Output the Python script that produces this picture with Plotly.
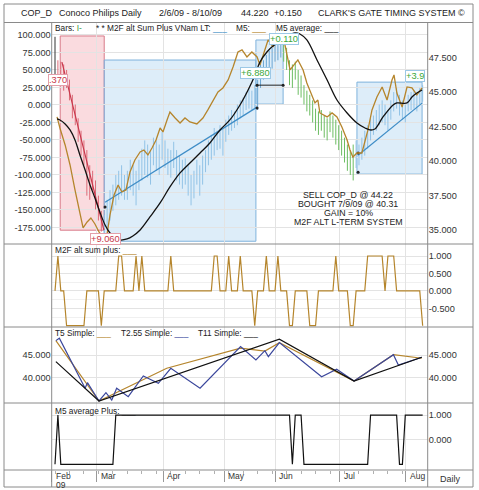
import plotly.graph_objects as go

# ---------------- data ----------------
month_labels = ["Feb", "Mar", "Apr", "May", "Jun", "Jul", "Aug"]
month_pos = [-1.1, 14.5, 37.4, 58.4, 76.0, 98.4, 121.1]
year_label = "09"

# daily price bars (high / low), trading-day index 0..127
bar_high = [49.0, 47.3, 47.2, 47.0, 46.6, 45.9, 44.8, 44.1, 43.1, 42.2, 41.5, 40.8, 39.7, 39.3, 38.6, 37.5, 36.4,
            36.1, 37.2, 37.9, 38.3, 39.0, 39.3, 39.7, 39.0, 39.3, 40.1, 39.7, 39.3, 40.1, 40.9, 41.5, 41.2, 40.8,
            41.7, 41.5, 41.2, 42.1, 41.5, 40.9, 40.8, 41.4, 40.8, 40.4, 40.1, 40.2, 39.7, 39.0, 39.3, 40.1, 39.7,
            40.4, 40.8, 41.5, 41.9, 42.4, 42.2, 42.6, 42.4, 43.0, 43.3, 43.7, 43.6, 44.1, 44.4, 44.6, 45.0, 45.3,
            45.1, 45.5,
            45.9, 47.0, 47.3, 47.7, 48.0, 48.2, 48.4, 48.6, 48.8,
            48.6, 48.2, 47.3, 47.0, 47.2, 46.6, 46.2, 45.5, 45.1, 44.8, 44.4, 43.8, 43.6, 43.7, 43.3, 43.1, 43.6,
            43.3, 43.0, 42.6, 42.2, 41.7, 41.2, 40.8, 41.2,
            41.5, 41.2, 41.7, 42.2, 42.6, 43.1, 43.3, 43.7, 44.1, 44.4, 44.1, 43.7, 44.4, 45.0, 45.3, 44.8, 44.4,
            44.1, 44.8, 45.0, 45.1, 44.8, 45.3, 45.5]
bar_low = [46.2, 45.5, 46.0, 45.1, 45.3, 44.4, 43.1, 42.6, 41.4, 40.4, 39.7, 37.5, 37.2, 37.9, 36.5, 35.7, 34.9,
           34.6, 35.0, 35.7, 36.4, 36.8, 37.2, 37.5, 37.2, 37.2, 37.9, 37.5, 36.8, 37.9, 38.6, 39.0, 38.8, 38.3,
           39.7, 39.3, 39.0, 40.1, 39.5, 39.0, 38.8, 39.5, 38.6, 38.3, 38.0, 38.3, 37.5, 36.8, 37.3, 38.3, 37.5,
           38.3, 39.2, 39.7, 40.1, 40.4, 40.8, 40.9, 40.4, 41.4, 41.9, 42.2, 42.4, 42.6, 43.1, 43.3, 43.7, 43.8,
           43.7, 43.8,
           43.7, 45.3, 45.9, 46.2, 46.6, 46.7, 47.2, 47.3, 47.5,
           47.2, 46.6, 45.5, 45.3, 45.9, 44.8, 44.6, 44.1, 43.6, 43.3, 42.8, 42.2, 41.9, 42.2, 41.7, 41.5, 42.1,
           41.7, 41.2, 40.8, 40.4, 39.9, 39.3, 39.0, 38.6,
           39.5, 39.7, 40.1, 40.4, 40.9, 41.5, 41.9, 42.2, 42.6, 42.8, 42.6, 42.2, 43.0, 43.6, 43.8, 43.3, 43.0,
           42.8, 43.6, 43.7, 43.8, 43.6, 44.1, 44.3]
bar_group_start = [0, 1, 17, 70, 79, 104]
bar_group_color = ["#333333", "#dc6b78", "#92c3e6", "#6aa6d2", "#6cbd62", "#92c3e6"]

# M5 (brown) and M5 average (black) on left scale
brown_x = [0.7, 1.7, 3.5, 5.2, 6.9, 8.3, 9.7, 11.1, 12.4, 13.8, 15.2, 16.6, 18.0, 19.0, 20.4, 21.8, 23.1, 24.5,
           25.9, 27.6, 29.4, 30.7, 32.1, 33.5, 34.9, 36.3, 37.3, 38.7, 39.7, 41.5, 43.2, 44.9, 46.6, 49.0, 51.1,
           52.8, 54.6, 56.3, 58.0, 59.8, 61.5, 63.2, 64.6, 66.3, 68.0, 69.8, 70.8, 72.2, 73.6, 75.3, 76.7, 78.8,
           81.2, 83.9, 85.7, 87.0, 88.8, 89.8, 90.8, 91.5, 94.0, 95.7, 97.4, 99.1, 100.9, 101.9, 102.9, 104.3,
           106.0, 107.1, 108.1, 109.5, 111.2, 113.0, 114.7, 116.4, 117.1, 118.1, 119.9, 121.6, 123.3, 125.0, 126.8]
brown_v = [-17.1, -32.9, -57.1, -85.7, -121.4, -150, -175.7, -167.1, -161.4, -170, -181.4, -190, -184.3, -157.1,
           -128.6, -114.3, -124.3, -121.4, -95.7, -78.6, -67.1, -64.3, -71.4, -61.4, -50, -32.9, -38.6, -21.4,
           -10, -18.6, -25.7, -18.6, -24.3, -27.1, -18.6, -7.1, 7.1, 18.6, 24.3, 35.7, 54.3, 75.7, 78.6, 68.6,
           75.7, 68.6, 57.1, 75.7, 92.9, 82.9, 95.7, 98.6, 50, 64.3, 50, 31.4, 11.4, 2.9, 7.1, -11.4, -17.1,
           -11.4, -17.1, -31.4, -50, -64.3, -74.3, -68.6, -68.6, -50, -35.7, -7.1, 11.4, 25.7, 7.1, 35.7, 42.9,
           17.1, -2.9, 25.7, 24.3, 14.3, 24.3]
black_x = [0.7, 1.7, 3.5, 5.2, 6.9, 8.6, 10.4, 12.1, 13.8, 15.5, 17.3, 19.0, 20.7, 22.5, 24.9, 26.9, 29.4, 32.8,
           36.3, 39.7, 43.2, 46.6, 50.1, 53.5, 57.0, 60.4, 63.9, 66.7, 69.1, 70.8, 73.2, 75.3, 77.7, 80.5, 82.9,
           84.6, 87.0, 90.5, 94.0, 97.4, 100.9, 104.3, 107.1, 108.8, 110.5, 113.3, 116.8, 118.1, 121.6, 123.3,
           125.0, 126.8]
black_v = [-20, -21.4, -27.1, -35.7, -50, -71.4, -92.9, -114.3, -132.9, -152.9, -171.4, -182.9, -190, -192.9,
           -191.4, -187.1, -178.6, -160, -140, -117.1, -97.1, -82.9, -68.6, -54.3, -35.7, -21.4, 0, 21.4, 42.9,
           61.4, 75.7, 84.3, 90, 98.6, 102.9, 101.4, 92.9, 64.3, 35.7, 7.1, -11.4, -25.7, -32.9, -35.7, -34.3,
           -17.1, 0, 2.9, 2.9, 11.4, 17.1, 21.4]

# trade boxes (sell = pink, buy = blue)
box_x0 = [1.8, 17.0, 69.4, 104.3]
box_x1 = [17.0, 69.4, 78.8, 126.8]
box_y0 = [35.0, 34.2, 44.13, 39.06]
box_y1 = [49.06, 47.32, 48.77, 45.72]
box_kind = ["sell", "buy", "buy", "buy"]

# trend lines inside the boxes
trend_x = [[2.4, 16.9], [17.3, 69.8], [104.7, 126.8]]
trend_y = [[47.17, 35.0], [37.03, 43.91], [40.43, 44.2]]
trend_color = ["#c8374b", "#3d8cc6", "#3d8cc6"]
level_x = [69.8, 78.8]
level_y = [45.5, 45.5]
dot_x = [17.3, 69.8, 69.8, 78.8, 104.7, 104.7]
dot_y = [36.67, 43.84, 45.5, 45.5, 40.58, 39.2]

# trade result labels
label_text = [".370", "+9.060", "+6.880", "+0.110", "+3.9"]
label_x = [0.9, 17.3, 69.4, 79.1, 120.9]
label_y = [45.87, 34.38, 46.38, 48.85, 46.16]
label_kind = ["sell", "sell", "buy", "buy", "buy"]

# panel 2: M2F alt sum plus
m2f = [0, 1, 0, 0, -1, -1, -1, -1, -1, -1,
       -1, 0, 0, 0, 0, 0, -1, 0, 0, 0,
       0, 0, 1, 1, 0, 0, 0, 0, 1, 0,
       1, 0, 0, 0, 0, 0, 0, 0, 0, 0,
       1, 0, 0, 0, 0, 0, 0, 0, 0, 0,
       0, 0, 0, 0, 0, 1, 1, 0, 0, 0,
       1, 0, 0, 0, 1, 0, 0, 0, 0, -1,
       0, 0, 0, 1, 0, 0, 0, 1, 0, 0,
       0, -1, -1, 0, 0, 0, 0, 0, -1, -1,
       -1, 0, 0, 0, 0, 0, 0, 1, 0, 0,
       0, 0, -1, -1, 0, 0, 0, 0, 1, 1,
       1, 1, 1, 1, 0, 1, 1, 1, 0, 0,
       0, 0, 0, 0, 0, 0, 0, -1]

# panel 3: swing lines
t5_x = [0.3, 15.2, 38.6, 64.1, 72.5, 77.5, 103.3, 116.9, 126.7]
t5_v = [48.26, 34.8, 42.1, 46.6, 45.94, 47.81, 39.26, 45.13, 44.33]
t255_x = [0.3, 1.5, 10.4, 11.2, 15.2, 17.6, 19.6, 21.3, 25.3, 30.5, 35.7, 40.0, 50.1, 64.1, 69.4, 72.5, 73.7,
          77.5, 92.1, 97.3, 103.3, 116.9, 118.6, 126.7]
t255_v = [48.26, 48.79, 37.63, 38.88, 34.8, 36.65, 35.02, 37.63, 35.76, 40.38, 38.75, 42.1, 37.63, 46.92, 43.95,
          46.03, 44.69, 47.81, 40.22, 41.87, 39.26, 45.13, 42.83, 44.55]
t11_x = [0.3, 15.2, 77.5, 103.3, 126.7]
t11_v = [43.57, 34.8, 48.57, 39.26, 44.55]

# panel 4: M5 average plus
m5plus = ([-1, 1] + [-1] * 19 + [1] * 61 + [-1] + [1] * 3 + [-1] * 23 + [1] * 10 + [-1] * 2 + [1] * 7)

# ---------------- layout helpers ----------------
W, H = 479, 490
FONT = "Liberation Sans, Arial, sans-serif"
XL, XR = 51.7 / W, 427.7 / W


def py(p):
    return 1 - p / H


def px(p):
    return p / W


BROWN = "#b5852c"
GRID = "#e3e3e3"
FRAME = "#8a8a8a"

fig = go.Figure()

# price bars
for gi, start in enumerate(bar_group_start):
    end = bar_group_start[gi + 1] if gi + 1 < len(bar_group_start) else len(bar_high)
    xs, ys = [], []
    for i in range(start, end):
        xs += [i, i, None]
        ys += [bar_low[i], bar_high[i], None]
    fig.add_trace(go.Scatter(x=xs, y=ys, mode="lines", line=dict(color=bar_group_color[gi], width=1),
                             xaxis="x", yaxis="y", hoverinfo="skip", showlegend=False))

for tx, ty, tc in zip(trend_x, trend_y, trend_color):
    fig.add_trace(go.Scatter(x=tx, y=ty, mode="lines", line=dict(color=tc, width=1.2),
                             xaxis="x", yaxis="y", showlegend=False))
fig.add_trace(go.Scatter(x=level_x, y=level_y, mode="lines", line=dict(color="#222", width=1),
                         xaxis="x", yaxis="y", showlegend=False))
fig.add_trace(go.Scatter(x=dot_x, y=dot_y, mode="markers", marker=dict(color="#222", size=3),
                         xaxis="x", yaxis="y", showlegend=False))

# oscillator lines on left scale
fig.add_trace(go.Scatter(x=brown_x, y=brown_v, mode="lines", line=dict(color=BROWN, width=1.3),
                         xaxis="x", yaxis="y2", showlegend=False))
fig.add_trace(go.Scatter(x=black_x, y=black_v, mode="lines", line=dict(color="#111", width=1.3, shape="spline"),
                         xaxis="x", yaxis="y2", showlegend=False))

# panel 2
fig.add_trace(go.Scatter(x=list(range(len(m2f))), y=m2f, mode="lines", line=dict(color=BROWN, width=1.2),
                         xaxis="x2", yaxis="y3", showlegend=False))
# panel 3
fig.add_trace(go.Scatter(x=t5_x, y=t5_v, mode="lines", line=dict(color=BROWN, width=1.2),
                         xaxis="x3", yaxis="y4", showlegend=False))
fig.add_trace(go.Scatter(x=t255_x, y=t255_v, mode="lines", line=dict(color="#3b479c", width=1.2),
                         xaxis="x3", yaxis="y4", showlegend=False))
fig.add_trace(go.Scatter(x=t11_x, y=t11_v, mode="lines", line=dict(color="#111", width=1.2),
                         xaxis="x3", yaxis="y4", showlegend=False))
fig.add_trace(go.Scatter(x=[], y=[], xaxis="x3", yaxis="y5", showlegend=False))
# panel 4
fig.add_trace(go.Scatter(x=list(range(len(m5plus))), y=m5plus, mode="lines", line=dict(color="#111", width=1.2),
                         xaxis="x4", yaxis="y6", showlegend=False))

shapes = []
for x0, x1, y0, y1, k in zip(box_x0, box_x1, box_y0, box_y1, box_kind):
    fill = "rgba(243,160,172,0.38)" if k == "sell" else "rgba(150,198,236,0.32)"
    edge = "#d87a88" if k == "sell" else "#7fb2dc"
    shapes.append(dict(type="rect", xref="x", yref="y", x0=x0, x1=x1, y0=y0, y1=y1,
                       fillcolor=fill, line=dict(color=edge, width=1), layer="below"))


# frame lines (paper)
def hline(y, x0=4, x1=473):
    shapes.append(dict(type="line", xref="paper", yref="paper", x0=px(x0), x1=px(x1), y0=py(y), y1=py(y),
                       line=dict(color=FRAME, width=1)))


def vline(x, y0=22.5, y1=487):
    shapes.append(dict(type="line", xref="paper", yref="paper", x0=px(x), x1=px(x), y0=py(y0), y1=py(y1),
                       line=dict(color=FRAME, width=1)))


shapes.append(dict(type="rect", xref="paper", yref="paper", x0=px(4), x1=px(473), y0=py(487), y1=py(4),
                   line=dict(color=FRAME, width=1)))
for yy in [22.5, 244, 327, 403, 470]:
    hline(yy)
vline(51.7)
vline(427.7)

ann = []


def text(x, y, s, size=9.5, color="#222", anchor="left", xref="paper", yref="paper", **kw):
    d = dict(x=x, y=y, xref=xref, yref=yref, text=s, showarrow=False, xanchor=anchor, yanchor="middle",
             font=dict(family=FONT, size=size, color=color))
    d.update(kw)
    ann.append(d)


# title bar
text(px(19), py(13), "COP_D", 9)
text(px(57), py(13), "Conoco Philips Daily", 9)
text(px(157), py(13), "2/6/09 - 8/10/09", 9)
text(px(239), py(13), "44.220", 9)
text(px(272), py(13), "+0.150", 9)
text(px(316), py(13), "CLARK'S GATE TIMING SYSTEM ©", 9)

# legends
LEG = 8.3
text(px(53), py(28), "Bars: <span style='color:#3a9d3a'>I-</span>", LEG)
text(px(94), py(28), "* * M2F alt Sum Plus VNam LT: <span style='color:#3d8cc6'>___</span>", LEG)
text(px(234), py(28), "M5: <span style='color:#b5852c'>___</span>", LEG)
text(px(274), py(28), "M5 average: ___", LEG)
text(px(53), py(250), "M2F alt sum plus: <span style='color:#b5852c'>___</span>", LEG)
text(px(53), py(333), "T5 Simple: <span style='color:#b5852c'>___</span>", LEG)
text(px(119), py(333), "T2.55 Simple: <span style='color:#3b479c'>___</span>", LEG)
text(px(196), py(333), "T11 Simple: ___", LEG)
text(px(53), py(411), "M5 average Plus: ___", LEG)

# trade labels
for s, lx, ly, k in zip(label_text, label_x, label_y, label_kind):
    col = "#c8374b" if k == "sell" else "#3aa83a"
    edge = "#e3a0aa" if k == "sell" else "#9cc8e6"
    text(lx, ly, s, 9.3, col, anchor="left" if s == label_text[-1] else "center", xref="x", yref="y",
         bgcolor="white", bordercolor=edge, borderwidth=1, borderpad=0)

# trade summary text
for i, s in enumerate(["SELL COP_D @ 44.22", "BOUGHT 7/9/09 @ 40.31", "GAIN = 10%", "M2F ALT L-TERM SYSTEM"]):
    text(px(348), py(194.5 + i * 9.0), s, 8.8, "#222", anchor="center")

# date row
for lab, mp in zip(month_labels, month_pos):
    text(mp, py(476), lab, 8.5, "#333", xref="x4", xshift=2)
text(month_pos[0], py(484.5), year_label, 8.5, "#333", xref="x4", xshift=2)
text(px(450), py(479), "Daily", 9, "#333", anchor="center")

XR_RANGE = [-1.14, 128.74]
tickfont = dict(family=FONT, size=9.2, color="#333")


def xax(anchor, extra=None):
    d = dict(domain=[XL, XR], anchor=anchor, range=XR_RANGE, showticklabels=False, showgrid=True,
             gridcolor=GRID, gridwidth=1, tickmode="array", tickvals=month_pos, zeroline=False,
             showline=False, ticks="")
    if extra:
        d.update(extra)
    return d


def fmt(vals):
    return [f"{v:.3f}" for v in vals]


main_dom = [py(244), py(23)]
p2_dom = [py(327), py(244)]
p3_dom = [py(403), py(327)]
p4_dom = [py(470), py(403)]

right_ticks = [35, 37.5, 40, 42.5, 45, 47.5]
left_ticks = [-175, -150, -125, -100, -75, -50, -25, 0, 25, 50, 75, 100]
p2_ticks = [-0.5, 0, 0.5, 1]
p3_ticks = [40, 45]
p4_ticks = [0, 1]

fig.update_layout(
    width=W, height=H, margin=dict(l=0, r=0, t=0, b=0), paper_bgcolor="white", plot_bgcolor="white",
    showlegend=False, shapes=shapes, annotations=ann, font=dict(family=FONT),
    xaxis=xax("y"),
    xaxis2=xax("y3", dict(matches="x")),
    xaxis3=xax("y4", dict(matches="x")),
    xaxis4=xax("y6", dict(matches="x", ticks="outside", ticklen=11, tickcolor="#999", tickwidth=1,
                          minor=dict(ticks="outside", ticklen=3, dtick=5, tick0=0, tickcolor="#b0b0b0",
                                     showgrid=False))),
    yaxis=dict(domain=main_dom, anchor="x", side="right", range=[34, 50], tickmode="array",
               tickvals=right_ticks, ticktext=fmt(right_ticks), showgrid=False, zeroline=False,
               tickfont=tickfont, ticks=""),
    yaxis2=dict(overlaying="y", anchor="x", side="left", range=[-198.6, 117.1], tickmode="array",
                tickvals=left_ticks, ticktext=fmt(left_ticks), showgrid=True, gridcolor=GRID,
                zeroline=False, tickfont=tickfont, ticks=""),
    yaxis3=dict(domain=p2_dom, anchor="x2", side="right", range=[-1.037, 1.345], tickmode="array",
                tickvals=p2_ticks, ticktext=fmt(p2_ticks), showgrid=True, gridcolor=GRID, zeroline=False,
                tickfont=tickfont, ticks="",
                minor=dict(tickvals=[-0.75, -0.25, 0.25, 0.75], showgrid=True, gridcolor="#f0f0f0")),
    yaxis4=dict(domain=p3_dom, anchor="x3", side="right", range=[34.35, 51.3], tickmode="array",
                tickvals=p3_ticks, ticktext=fmt(p3_ticks), showgrid=True, gridcolor=GRID, zeroline=False,
                tickfont=tickfont, ticks=""),
    yaxis5=dict(overlaying="y4", anchor="x3", side="left", range=[34.35, 51.3], tickmode="array",
                tickvals=p3_ticks, ticktext=fmt(p3_ticks), showgrid=False, zeroline=False,
                tickfont=tickfont, ticks=""),
    yaxis6=dict(domain=p4_dom, anchor="x4", side="right", range=[-1.23, 1.49], tickmode="array",
                tickvals=p4_ticks, ticktext=fmt(p4_ticks), showgrid=True, gridcolor=GRID, zeroline=False,
                tickfont=tickfont, ticks=""),
)

fig.write_html("out.html")
